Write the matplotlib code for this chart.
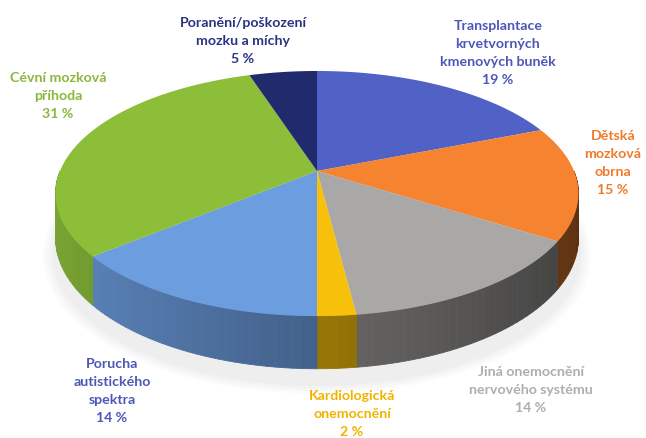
import numpy as np
import matplotlib
matplotlib.use("Agg")
import matplotlib.pyplot as plt
from matplotlib.colors import to_rgb

# ---- data ----
categories = [
    "Transplantace\nkrvetvorných\nkmenových buněk",
    "Dětská\nmozková\nobrna",
    "Jiná onemocnění\nnervového systému",
    "Kardiologická\nonemocnění",
    "Porucha\nautistického\nspektra",
    "Cévní mozková\npříhoda",
    "Poranění/poškození\nmozku a míchy",
]
values = [19, 15, 14, 2, 14, 31, 5]
top_colors = ["#5162c6", "#f5832f", "#aaa8a6", "#f7c00a", "#6c9ddf", "#8cbe3a", "#222a6e"]
label_colors = ["#4d57b8", "#f07a2a", "#aeaeae", "#f0b400", "#4d57b8", "#8ab83c", "#2a3480"]
label_pos = [(498, 20), (613, 130), (531, 366), (352, 390), (112, 358), (58, 72), (243, 17)]

# ---- geometry (pixel space) ----
W, H = 646, 439
cx, cy = 317, 172        # apex of slices
a, k, d = 257, 118.4, 5.44   # half-width, vertical scale, perspective distance
depth = 43

def proj(theta_deg, h=0.0):
    t = np.radians(theta_deg)
    x = np.sin(t)
    z = np.cos(t)
    s = d / (d + z)
    X = cx + a * x * s
    Y = cy - k * z * s + h * s
    return X, Y

fig = plt.figure(figsize=(W / 100, H / 100), dpi=100)
ax = fig.add_axes([0, 0, 1, 1])
ax.set_xlim(0, W)
ax.set_ylim(H, 0)
ax.axis("off")

# soft shadow under the pie
for i, al in enumerate([0.03, 0.03, 0.03, 0.04]):
    th = np.linspace(0, 360, 200)
    X, Y = proj(th, depth + 4)
    sc = 1.0 + 0.012 * (4 - i)
    ax.fill(cx + (X - cx) * sc, cy + 10 + (Y - cy) * sc, color="#808080", alpha=al, lw=0, zorder=0)

total = float(sum(values))
angles = np.concatenate([[0], np.cumsum(values) / total * 360])

def shade(theta):
    # left side lighter, right side darker
    x = np.sin(np.radians(theta))
    return 0.62 - 0.25 * x

# sides
for i in range(len(values)):
    t0, t1 = angles[i], angles[i + 1]
    lo, hi = max(t0, 90), min(t1, 270)
    if hi <= lo:
        continue
    edges = np.linspace(lo, hi, max(3, int((hi - lo) / 1.5)) + 1)
    base = np.array(to_rgb(top_colors[i]))
    for e0, e1 in zip(edges[:-1], edges[1:]):
        th = np.array([e0, e1])
        Xt, Yt = proj(th)
        Xb, Yb = proj(th, depth)
        f = shade((e0 + e1) / 2)
        col = np.clip(base * f, 0, 1)
        ax.fill(np.r_[Xt, Xb[::-1]], np.r_[Yt, Yb[::-1]], color=col, lw=0.6, ec=col, zorder=1)

# top faces
for i in range(len(values)):
    th = np.linspace(angles[i], angles[i + 1], 120)
    X, Y = proj(th)
    ax.fill(np.r_[cx, X], np.r_[cy, Y], color=top_colors[i], lw=0, zorder=2)

# labels
for i, (lab, (x, y)) in enumerate(zip(categories, label_pos)):
    txt = f"{lab}\n{values[i]} %"
    ax.text(x, y, txt, ha="center", va="top", color=label_colors[i], family=["Lato", "DejaVu Sans"],
            fontsize=10.2, fontweight="bold", linespacing=1.6, zorder=5)

fig.savefig("out.png", dpi=100)
